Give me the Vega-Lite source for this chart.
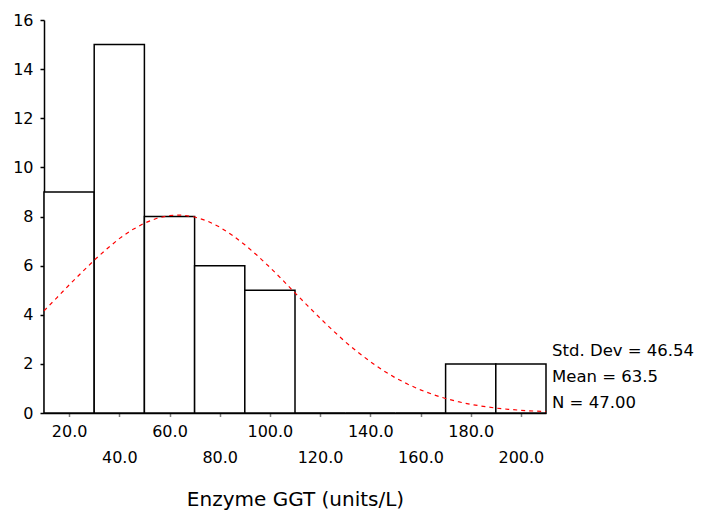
{
  "$schema": "https://vega.github.io/schema/vega-lite/v6.json",
  "autosize": "none",
  "width": 502,
  "height": 393,
  "padding": {"left": 44, "top": 20, "right": 158, "bottom": 99},
  "background": "white",
  "config": {
    "view": {"stroke": null},
    "font": "DejaVu Sans"
  },
  "datasets": {
    "bins": [
      {"start": 10, "end": 30, "count": 9},
      {"start": 30, "end": 50, "count": 15},
      {"start": 50, "end": 70, "count": 8},
      {"start": 70, "end": 90, "count": 6},
      {"start": 90, "end": 110, "count": 5},
      {"start": 110, "end": 130, "count": 0},
      {"start": 130, "end": 150, "count": 0},
      {"start": 150, "end": 170, "count": 0},
      {"start": 170, "end": 190, "count": 2},
      {"start": 190, "end": 210, "count": 2}
    ],
    "curve": [
      {"x": 10, "y": 4.16}, {"x": 15, "y": 4.68}, {"x": 20, "y": 5.21}, {"x": 25, "y": 5.72},
      {"x": 30, "y": 6.22}, {"x": 35, "y": 6.68}, {"x": 40, "y": 7.10}, {"x": 45, "y": 7.45},
      {"x": 50, "y": 7.73}, {"x": 55, "y": 7.93}, {"x": 60, "y": 8.04}, {"x": 63.5, "y": 8.06},
      {"x": 65, "y": 8.06}, {"x": 70, "y": 7.98}, {"x": 75, "y": 7.82}, {"x": 80, "y": 7.57},
      {"x": 85, "y": 7.24}, {"x": 90, "y": 6.85}, {"x": 95, "y": 6.41}, {"x": 100, "y": 5.93},
      {"x": 105, "y": 5.42}, {"x": 110, "y": 4.89}, {"x": 115, "y": 4.37}, {"x": 120, "y": 3.86},
      {"x": 125, "y": 3.37}, {"x": 130, "y": 2.90}, {"x": 135, "y": 2.48}, {"x": 140, "y": 2.09},
      {"x": 145, "y": 1.74}, {"x": 150, "y": 1.43}, {"x": 155, "y": 1.17}, {"x": 160, "y": 0.94},
      {"x": 165, "y": 0.75}, {"x": 170, "y": 0.59}, {"x": 175, "y": 0.46}, {"x": 180, "y": 0.35},
      {"x": 185, "y": 0.27}, {"x": 190, "y": 0.20}, {"x": 195, "y": 0.15}, {"x": 200, "y": 0.11},
      {"x": 205, "y": 0.08}, {"x": 210, "y": 0.06}
    ],
    "stats": [
      {"label": "Std. Dev = 46.54", "x": 212.4, "y": 2.52},
      {"label": "Mean = 63.5", "x": 212.4, "y": 1.47},
      {"label": "N = 47.00", "x": 212.4, "y": 0.41}
    ]
  },
  "layer": [
    {
      "data": {"name": "bins"},
      "mark": {"type": "rect", "fill": "white", "stroke": "black", "strokeWidth": 1.5},
      "encoding": {
        "x": {
          "field": "start", "type": "quantitative",
          "scale": {"domain": [10, 210], "nice": false, "zero": false},
          "axis": {
            "title": "Enzyme GGT (units/L)",
            "values": [20, 40, 60, 80, 100, 120, 140, 160, 180, 200],
            "format": ".1f",
            "grid": false,
            "domainColor": "black",
            "domainWidth": 1.5,
            "tickColor": "black",
            "tickSize": 3,
            "tickWidth": 1.5,
            "tickDash": [1, 1],
            "labelFont": "DejaVu Sans",
            "labelFontSize": 16,
            "labelColor": "black",
            "labelPadding": {"condition": {"test": "datum.value % 40 == 0", "value": 33}, "value": 7},
            "labelBaseline": "top",
            "labelOverlap": false,
            "titleFont": "DejaVu Sans",
            "titleFontSize": 20,
            "titleFontWeight": "normal",
            "titleColor": "black",
            "titlePadding": 24
          }
        },
        "x2": {"field": "end"},
        "y": {
          "field": "count", "type": "quantitative",
          "scale": {"domain": [0, 16], "nice": false},
          "axis": {
            "title": null,
            "values": [0, 2, 4, 6, 8, 10, 12, 14, 16],
            "grid": false,
            "domainColor": "black",
            "domainWidth": 1.5,
            "tickColor": "black",
            "tickSize": 4,
            "tickWidth": 1.5,
            "labelFont": "DejaVu Sans",
            "labelFontSize": 16,
            "labelColor": "black",
            "labelPadding": 7
          }
        },
        "y2": {"datum": 0}
      }
    },
    {
      "data": {"name": "curve"},
      "mark": {"type": "line", "color": "red", "strokeWidth": 1.2, "strokeDash": [4, 4]},
      "encoding": {
        "x": {"field": "x", "type": "quantitative"},
        "y": {"field": "y", "type": "quantitative"}
      }
    },
    {
      "data": {"name": "stats"},
      "mark": {"type": "text", "align": "left", "baseline": "middle", "fontSize": 16.5, "font": "DejaVu Sans", "color": "black", "clip": false},
      "encoding": {
        "x": {"field": "x", "type": "quantitative"},
        "y": {"field": "y", "type": "quantitative"},
        "text": {"field": "label"}
      }
    }
  ]
}
